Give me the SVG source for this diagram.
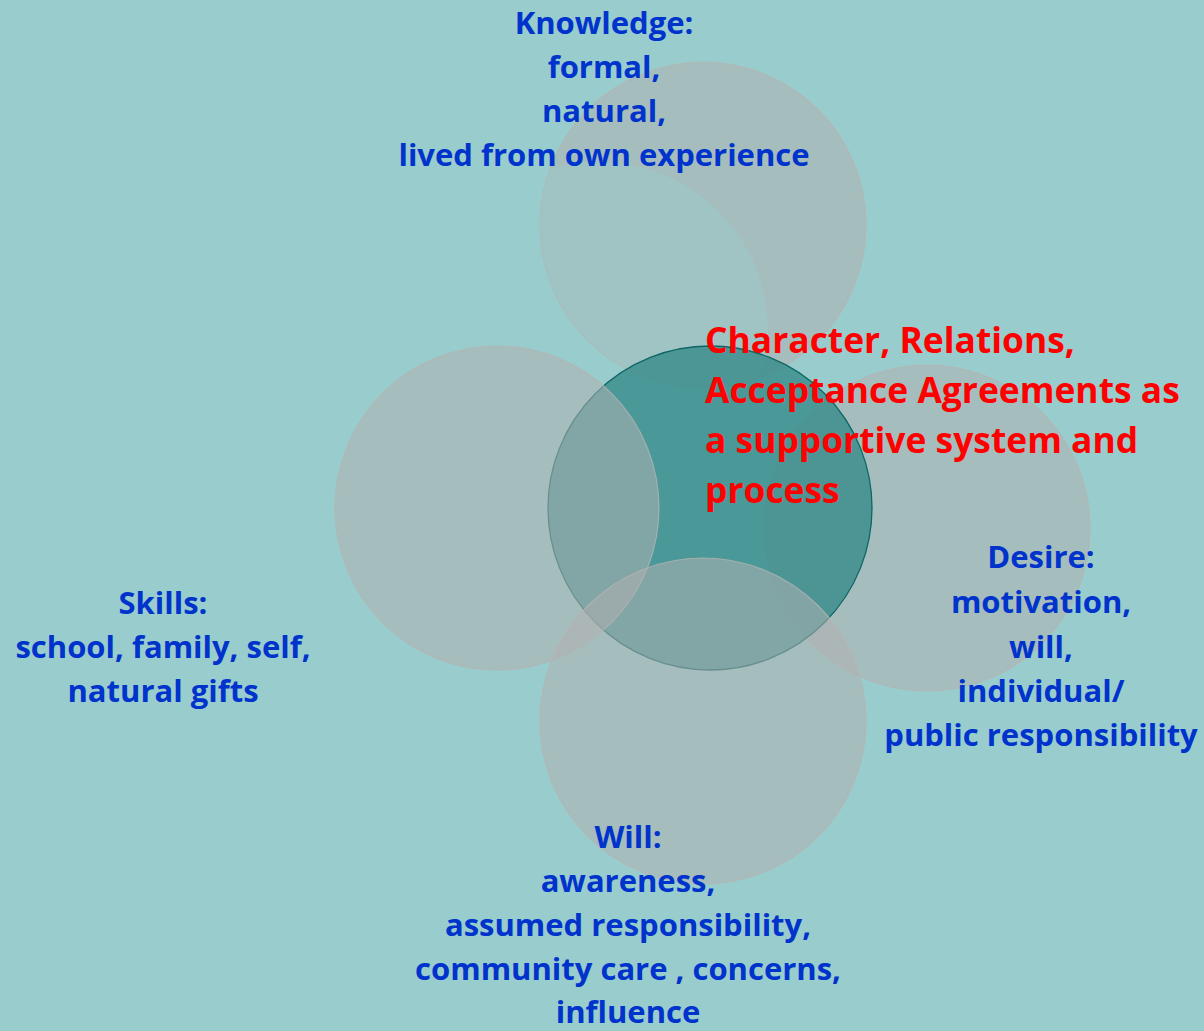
<svg xmlns="http://www.w3.org/2000/svg" width="1204" height="1031" viewBox="0 0 1204 1031">
  <style>
    .petal { fill: #B0B0B0; fill-opacity: 0.55; stroke: #B4B4B4; stroke-opacity: 0.8; stroke-width: 1.2; }
    .core { fill: #378B8B; fill-opacity: 0.8; stroke: #0E6666; stroke-width: 1.3; }
    .lbl { font-family: "Open Sans", Lato, "Liberation Sans", sans-serif; font-weight: bold; font-size: 31px; fill: #0033CC; text-anchor: middle; }
    .core-lbl { font-family: "Open Sans", Lato, "Liberation Sans", sans-serif; font-weight: bold; font-size: 35.4px; fill: #FF0000; }
  </style>
  <defs>
    <clipPath id="topClip">
      <circle cx="703" cy="225" r="163"/>
    </clipPath>
  </defs>

  <!-- backdrop -->
  <rect x="0" y="0" width="1204" height="1031" fill="#99CCCC"/>

  <!-- upper circle: knowledge -->
  <g id="knowledge-circle">
    <circle class="petal" cx="703" cy="225" r="163"/>
    <circle cx="600" cy="330" r="168" fill="#99CCCC" fill-opacity="0.45" clip-path="url(#topClip)"/>
  </g>

  <!-- right circle: desire -->
  <g id="desire-circle">
    <circle class="petal" cx="927" cy="528" r="163"/>
  </g>

  <!-- central circle -->
  <g id="core">
    <circle class="core" cx="710" cy="508" r="162"/>
  </g>

  <!-- left circle: skills -->
  <g id="skills-circle">
    <circle class="petal" cx="497" cy="508" r="162"/>
  </g>

  <!-- lower circle: will -->
  <g id="will-circle">
    <circle class="petal" cx="703" cy="721" r="163"/>
  </g>

  <g id="connectors"></g>

  <!-- labels -->
  <g id="knowledge">
    <text class="lbl" x="604" y="34">Knowledge:</text>
    <text class="lbl" x="604" y="78">formal,</text>
    <text class="lbl" x="604" y="122">natural,</text>
    <text class="lbl" x="604" y="166">lived from own experience</text>
  </g>

  <g id="skills">
    <text class="lbl" x="163" y="614">Skills:</text>
    <text class="lbl" x="163" y="658">school, family, self,</text>
    <text class="lbl" x="163" y="702">natural gifts</text>
  </g>

  <g id="desire">
    <text class="lbl" x="1041" y="568">Desire:</text>
    <text class="lbl" x="1041" y="613">motivation,</text>
    <text class="lbl" x="1041" y="658">will,</text>
    <text class="lbl" x="1041" y="702">individual/</text>
    <text class="lbl" x="1041" y="746">public responsibility</text>
  </g>

  <g id="will">
    <text class="lbl" x="628" y="848">Will:</text>
    <text class="lbl" x="628" y="892">awareness,</text>
    <text class="lbl" x="628" y="936">assumed responsibility,</text>
    <text class="lbl" x="628" y="980">community care , concerns,</text>
    <text class="lbl" x="628" y="1023">influence</text>
  </g>

  <g id="core-label">
    <text class="core-lbl" x="705" y="353">Character, Relations,</text>
    <text class="core-lbl" x="705" y="403">Acceptance Agreements as</text>
    <text class="core-lbl" x="705" y="453">a supportive system and</text>
    <text class="core-lbl" x="705" y="503">process</text>
  </g>
</svg>
